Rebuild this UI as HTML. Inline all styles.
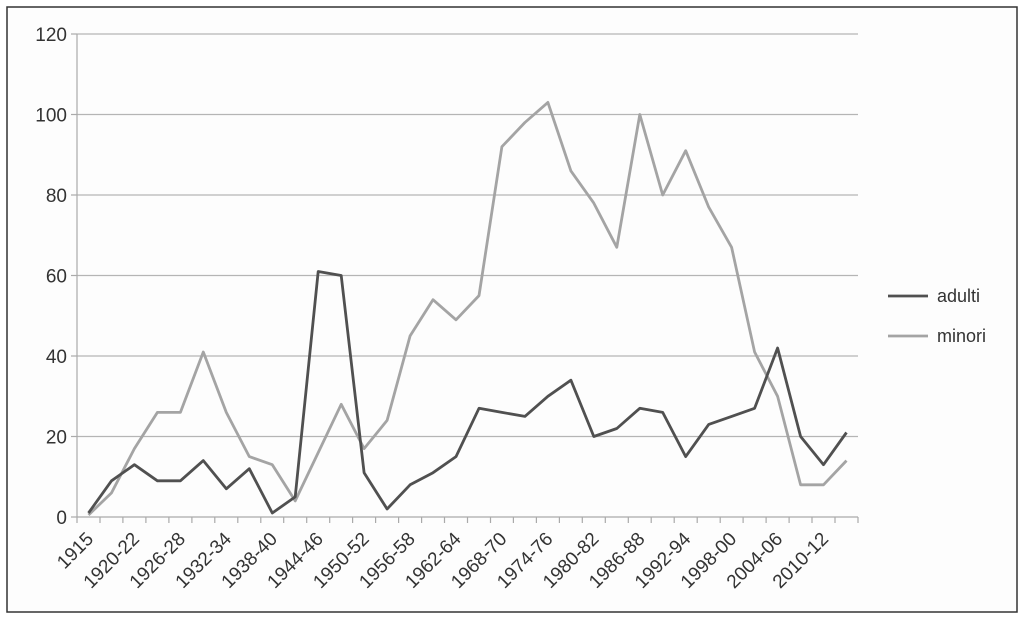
<!DOCTYPE html>
<html><head><meta charset="utf-8"><style>
html,body{margin:0;padding:0;background:#fff;}
svg{display:block;font-family:"Liberation Sans",Arial,sans-serif;}
</style></head><body>
<svg width="1024" height="624" viewBox="0 0 1024 624" xmlns="http://www.w3.org/2000/svg">
<rect x="0" y="0" width="1024" height="624" fill="#fff"/>
<rect x="7" y="7" width="1010" height="605" fill="#fdfdfd" stroke="#333" stroke-width="1.5"/>
<g stroke="#b5b5b5" stroke-width="1.2">
<line x1="77" y1="436.5" x2="858" y2="436.5"/>
<line x1="77" y1="356" x2="858" y2="356"/>
<line x1="77" y1="275.5" x2="858" y2="275.5"/>
<line x1="77" y1="195" x2="858" y2="195"/>
<line x1="77" y1="114.5" x2="858" y2="114.5"/>
<line x1="77" y1="34" x2="858" y2="34"/>
</g>
<g stroke="#aaa" stroke-width="1.2">
<line x1="77" y1="34" x2="77" y2="517"/>
<line x1="77" y1="517" x2="858" y2="517"/>
<line x1="71" y1="517" x2="77" y2="517"/>
<line x1="71" y1="436.5" x2="77" y2="436.5"/>
<line x1="71" y1="356" x2="77" y2="356"/>
<line x1="71" y1="275.5" x2="77" y2="275.5"/>
<line x1="71" y1="195" x2="77" y2="195"/>
<line x1="71" y1="114.5" x2="77" y2="114.5"/>
<line x1="71" y1="34" x2="77" y2="34"/>
<path d="M77 517v6M100 517v6M122.9 517v6M145.9 517v6M168.9 517v6M191.9 517v6M214.8 517v6M237.8 517v6M260.8 517v6M283.7 517v6M306.7 517v6M329.7 517v6M352.6 517v6M375.6 517v6M398.6 517v6M421.6 517v6M444.5 517v6M467.5 517v6M490.5 517v6M513.4 517v6M536.4 517v6M559.4 517v6M582.3 517v6M605.3 517v6M628.3 517v6M651.2 517v6M674.2 517v6M697.2 517v6M720.2 517v6M743.1 517v6M766.1 517v6M789.1 517v6M812 517v6M835 517v6M858 517v6"/>
</g>
<g font-size="19" fill="#333" text-anchor="end">
<text x="67" y="524">0</text>
<text x="67" y="443.5">20</text>
<text x="67" y="363">40</text>
<text x="67" y="282.5">60</text>
<text x="67" y="202">80</text>
<text x="67" y="121.5">100</text>
<text x="67" y="41">120</text>
</g>
<g font-size="19" fill="#333" text-anchor="end">
<text x="94.5" y="540" transform="rotate(-45 94.5 540)">1915</text>
<text x="140.4" y="540" transform="rotate(-45 140.4 540)">1920-22</text>
<text x="186.4" y="540" transform="rotate(-45 186.4 540)">1926-28</text>
<text x="232.3" y="540" transform="rotate(-45 232.3 540)">1932-34</text>
<text x="278.3" y="540" transform="rotate(-45 278.3 540)">1938-40</text>
<text x="324.2" y="540" transform="rotate(-45 324.2 540)">1944-46</text>
<text x="370.1" y="540" transform="rotate(-45 370.1 540)">1950-52</text>
<text x="416.1" y="540" transform="rotate(-45 416.1 540)">1956-58</text>
<text x="462" y="540" transform="rotate(-45 462 540)">1962-64</text>
<text x="507.9" y="540" transform="rotate(-45 507.9 540)">1968-70</text>
<text x="553.9" y="540" transform="rotate(-45 553.9 540)">1974-76</text>
<text x="599.8" y="540" transform="rotate(-45 599.8 540)">1980-82</text>
<text x="645.8" y="540" transform="rotate(-45 645.8 540)">1986-88</text>
<text x="691.7" y="540" transform="rotate(-45 691.7 540)">1992-94</text>
<text x="737.6" y="540" transform="rotate(-45 737.6 540)">1998-00</text>
<text x="783.6" y="540" transform="rotate(-45 783.6 540)">2004-06</text>
<text x="829.5" y="540" transform="rotate(-45 829.5 540)">2010-12</text>
</g>
<polyline fill="none" stroke="#a4a4a4" stroke-width="2.8" stroke-linejoin="round" points="88.5,515 111.5,492.9 134.4,448.6 157.4,412.4 180.4,412.4 203.3,352 226.3,412.4 249.3,456.6 272.3,464.7 295.2,500.9 318.2,452.6 341.2,404.3 364.1,448.6 387.1,420.4 410.1,335.9 433,299.7 456,319.8 479,295.6 501.9,146.7 524.9,122.5 547.9,102.4 570.9,170.9 593.8,203.1 616.8,247.3 639.8,114.5 662.7,195 685.7,150.7 708.7,207.1 731.6,247.3 754.6,352 777.6,396.3 800.6,484.8 823.5,484.8 846.5,460.6"/>
<polyline fill="none" stroke="#505050" stroke-width="2.8" stroke-linejoin="round" points="88.5,513 111.5,480.8 134.4,464.7 157.4,480.8 180.4,480.8 203.3,460.6 226.3,488.8 249.3,468.7 272.3,513 295.2,496.9 318.2,271.5 341.2,275.5 364.1,472.7 387.1,509 410.1,484.8 433,472.7 456,456.6 479,408.3 501.9,412.4 524.9,416.4 547.9,396.3 570.9,380.2 593.8,436.5 616.8,428.5 639.8,408.3 662.7,412.4 685.7,456.6 708.7,424.4 731.6,416.4 754.6,408.3 777.6,348 800.6,436.5 823.5,464.7 846.5,432.5"/>
<line x1="888" y1="296" x2="928" y2="296" stroke="#505050" stroke-width="2.8"/>
<text x="937" y="302" font-size="18" fill="#333">adulti</text>
<line x1="888" y1="336" x2="928" y2="336" stroke="#a4a4a4" stroke-width="2.8"/>
<text x="937" y="342" font-size="18" fill="#333">minori</text>
</svg>
</body></html>
